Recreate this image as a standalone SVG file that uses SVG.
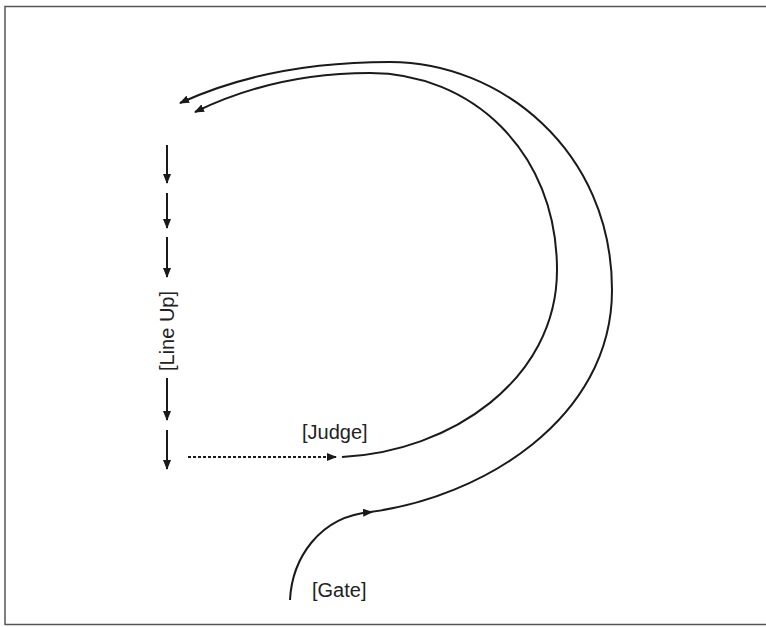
<svg xmlns="http://www.w3.org/2000/svg" width="766" height="627" viewBox="0 0 766 627">
<style>
.ln{fill:none;stroke:#1a1a1a;stroke-width:2}
.lbl{font-family:"Liberation Sans",Arial,sans-serif;font-size:20px;fill:#222}
.frame{fill:none;stroke:#555;stroke-width:1.5}
</style>
<defs>
<marker id="ah" markerWidth="10" markerHeight="8" refX="9" refY="4" orient="auto" markerUnits="userSpaceOnUse">
<path d="M0,0 L10,4 L0,8 Z" fill="#1a1a1a"/>
</marker>
</defs>
<rect width="766" height="627" fill="#fff"/>
<path class="frame" d="M5,625 L5,6.5 L766,6.5 M5,624.5 L766,624.5"/>
<g id="connectors">
<path class="ln" d="M167,145 L167,183" marker-end="url(#ah)"/>
<path class="ln" d="M167,193 L167,228" marker-end="url(#ah)"/>
<path class="ln" d="M167,237 L167,277" marker-end="url(#ah)"/>
<path class="ln" d="M167,378 L167,420" marker-end="url(#ah)"/>
<path class="ln" d="M167,430 L167,469" marker-end="url(#ah)"/>
<path class="ln" d="M188,457 L336,457" stroke-dasharray="3,2" marker-end="url(#ah)"/>
<path class="ln" d="M342,457 C450,452 557,380 557,270 C557,150 470,73 370,73 C300,73 240,90 195,112" marker-end="url(#ah)"/>
<path class="ln" d="M290,600 C292,560 318,516 372,512" marker-end="url(#ah)"/>
<path class="ln" d="M370,512 C480,498 612,420 612,290 C612,150 500,62 390,62 C300,62 230,80 180,103" marker-end="url(#ah)"/>
</g>
<g id="line-up"><text class="lbl" transform="translate(174,331) rotate(-90)" text-anchor="middle">[Line Up]</text></g>
<g id="judge"><text class="lbl" x="302" y="439">[Judge]</text></g>
<g id="gate"><text class="lbl" x="312" y="597">[Gate]</text></g>
</svg>
